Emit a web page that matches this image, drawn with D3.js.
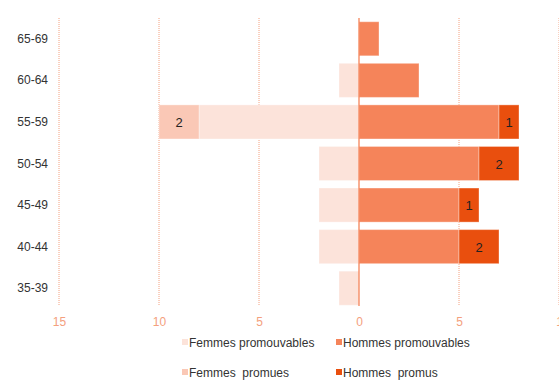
<!DOCTYPE html>
<html><head><meta charset="utf-8">
<script src="https://cdn.jsdelivr.net/npm/d3@7"></script>
<style>body{margin:0;background:#fff}svg{font-family:"Liberation Sans",Arial,sans-serif}</style>
</head><body><svg id="c" width="559" height="380"></svg>
<script>
const categories = ["65-69","60-64","55-59","50-54","45-49","40-44","35-39"];
const femmesPromouvables = [0,1,8,2,2,2,1];
const femmesPromues = [0,0,2,0,0,0,0];
const hommesPromouvables = [1,3,7,6,5,5,0];
const hommesPromus = [0,0,1,2,1,2,0];
const tickValues = [-15,-10,-5,0,5,10];
const tickLabels = ["15","10","5","0","5","1"];
const seriesNames = ["Femmes promouvables","Hommes promouvables","Femmes  promues","Hommes  promus"];
const colors = {fp:"#fce3da", fpr:"#fac8b6", hp:"#f5845a", hpr:"#e94f0e"};

const svg = d3.select("#c");
const x = d3.scaleLinear().domain([-15,10]).range([59,559]);
const y = d3.scaleBand().domain(categories).range([18,309]).paddingInner(0.18).paddingOuter(0.09);

// grid lines
svg.append("g").selectAll("line").data(tickValues.filter(v=>v!==0)).join("line")
  .attr("x1",d=>x(d)).attr("x2",d=>x(d)).attr("y1",18).attr("y2",306)
  .attr("stroke","#f4a07e").attr("stroke-width",1).attr("stroke-dasharray","1,1");

const bh = y.bandwidth();
const g = svg.append("g");
categories.forEach((c,i)=>{
  const segs = [
    {x0:-femmesPromouvables[i], x1:0, col:colors.fp},
    {x0:-femmesPromouvables[i]-femmesPromues[i], x1:-femmesPromouvables[i], col:colors.fpr, lab:femmesPromues[i]},
    {x0:0, x1:hommesPromouvables[i], col:colors.hp},
    {x0:hommesPromouvables[i], x1:hommesPromouvables[i]+hommesPromus[i], col:colors.hpr, lab:hommesPromus[i]}
  ];
  segs.forEach(s=>{
    if (s.x1-s.x0<=0) return;
    g.append("rect").attr("x",x(s.x0)).attr("y",y(c)).attr("width",x(s.x1)-x(s.x0)).attr("height",bh)
      .attr("fill",s.col).attr("stroke","rgba(255,255,255,0.35)").attr("stroke-width",1);
    if (s.lab) g.append("text").attr("x",(x(s.x0)+x(s.x1))/2).attr("y",y(c)+bh/2+5)
      .attr("text-anchor","middle").attr("font-size",13).attr("fill","#222").text(s.lab);
  });
});

// zero axis line
svg.append("line").attr("x1",x(0)).attr("x2",x(0)).attr("y1",18).attr("y2",306)
  .attr("stroke","#f5845a").attr("stroke-width",1.3);

// category labels
svg.append("g").selectAll("text").data(categories).join("text")
  .attr("x",48).attr("y",d=>y(d)+bh/2+4).attr("text-anchor","end")
  .attr("font-size",12).attr("fill","#333").text(d=>d);

// x axis
const ax = d3.axisBottom(x).tickValues(tickValues).tickSize(0).tickFormat((d,i)=>tickLabels[i]);
const axg = svg.append("g").attr("transform","translate(0,314)").call(ax);
axg.select(".domain").remove();
axg.selectAll("text").attr("fill","#f4a07e").attr("font-size",12).attr("font-family","Liberation Sans, Arial, sans-serif");

// legend
const leg = [
  {n:seriesNames[0], c:colors.fp, x:182, y:343},
  {n:seriesNames[1], c:colors.hp, x:336, y:343},
  {n:seriesNames[2], c:colors.fpr, x:182, y:373},
  {n:seriesNames[3], c:colors.hpr, x:336, y:373}
];
const lg = svg.append("g").selectAll("g").data(leg).join("g");
lg.append("rect").attr("x",d=>d.x).attr("y",d=>d.y-4).attr("width",6).attr("height",6).attr("fill",d=>d.c);
lg.append("text").attr("x",d=>d.x+7).attr("y",d=>d.y+4).attr("font-size",12).attr("fill","#333")
  .attr("xml:space","preserve").style("white-space","pre").text(d=>d.n);
</script></body></html>
